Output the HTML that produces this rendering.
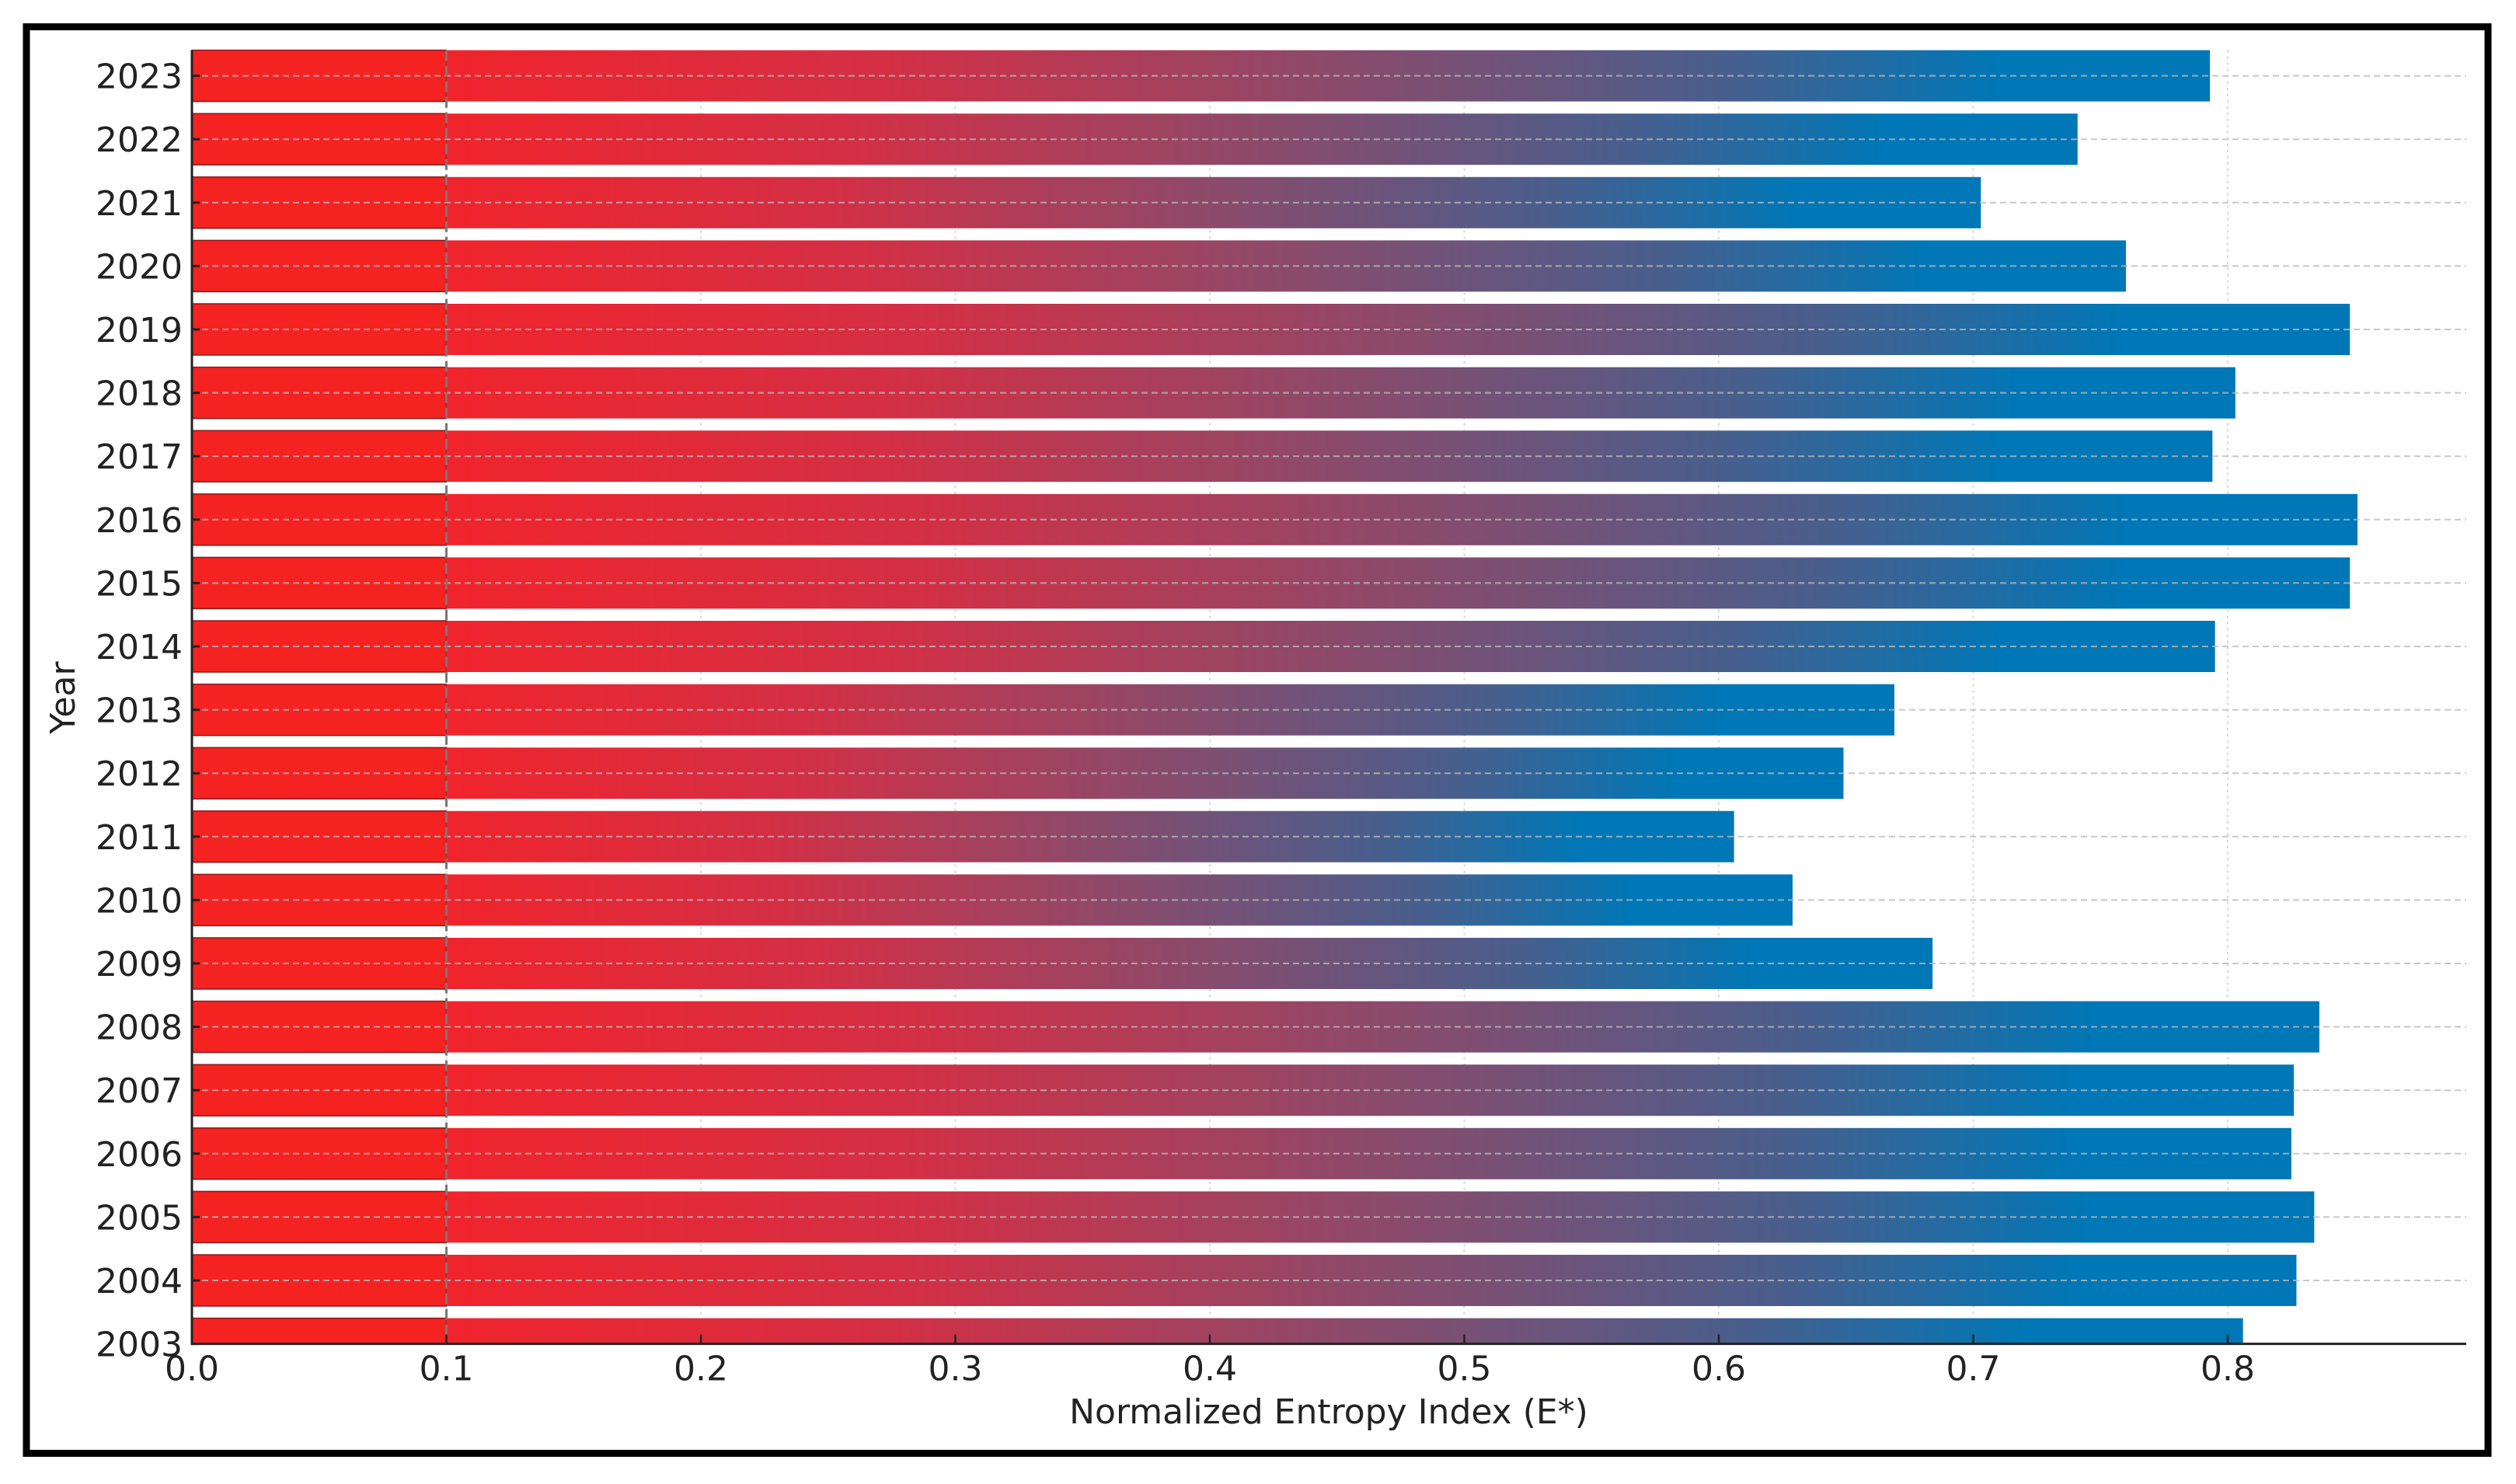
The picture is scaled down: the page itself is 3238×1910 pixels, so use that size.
<!DOCTYPE html>
<html><head><meta charset="utf-8"><style>
html,body{margin:0;padding:0;background:#fff;}
svg{display:block;font-family:"DejaVu Sans","Liberation Sans",sans-serif;}
</style></head><body>
<svg id="chart" width="3238" height="1910" viewBox="0 0 3238 1910" xmlns="http://www.w3.org/2000/svg">
<defs>
<linearGradient id="barGrad" x1="0" y1="0" x2="1" y2="0">
<stop offset="0" stop-color="#f0242c"/>
<stop offset="0.25" stop-color="#d32f45"/>
<stop offset="0.5" stop-color="#8c4a6a"/>
<stop offset="0.72" stop-color="#4a5e8c"/>
<stop offset="0.88" stop-color="#0077b6"/>
<stop offset="1" stop-color="#0077b6"/>
</linearGradient>
</defs>
<rect x="34" y="34.5" width="3168" height="1836" fill="#fff" stroke="#000" stroke-width="9"/>
<g id="grid"></g>
<g id="bars"></g>
<g id="axes"></g>
<text x="1710" y="1832" font-size="44" text-anchor="middle" fill="#222">Normalized Entropy Index (E*)</text>
<text x="0" y="0" font-size="44" text-anchor="middle" fill="#222" transform="translate(96,898) rotate(-90)">Year</text>
</svg>
<script>
const years = [2003,2004,2005,2006,2007,2008,2009,2010,2011,2012,2013,2014,2015,2016,2017,2018,2019,2020,2021,2022,2023];
const values = [0.806,0.827,0.834,0.825,0.826,0.836,0.684,0.629,0.606,0.649,0.669,0.795,0.848,0.851,0.794,0.803,0.848,0.760,0.703,0.741,0.793];
const xTicks = [0.0,0.1,0.2,0.3,0.4,0.5,0.6,0.7,0.8];
const xTickLabels = ["0.0","0.1","0.2","0.3","0.4","0.5","0.6","0.7","0.8"];
const splitValue = 0.1;

const NS = "http://www.w3.org/2000/svg";
const X0 = 247, XPER = 3275, XEND = 3174;
const Y0 = 1729.6, PITCH = 81.6, BARH = 66;
function xs(v){ return X0 + v * XPER; }
function ys(i){ return Y0 - i * PITCH; }
function mk(tag, attrs, parent){
  const e = document.createElementNS(NS, tag);
  for (const k in attrs) e.setAttribute(k, attrs[k]);
  parent.appendChild(e);
  return e;
}
const gridG = document.getElementById('grid');
const barsG = document.getElementById('bars');
const axesG = document.getElementById('axes');
const plotTop = ys(years.length - 1) - BARH / 2;

xTicks.forEach((t, i) => {
  if (i === 0) return;
  const g = mk('line', {x1: xs(t), x2: xs(t), y1: plotTop, y2: Y0, stroke: '#d8d8d8', 'stroke-width': 2, 'stroke-dasharray': '3,5'}, gridG);
  
  
});

years.forEach((yr, i) => {
  const cy = ys(i);
  let y1 = cy - BARH / 2, h = BARH;
  if (y1 + h > Y0) h = Y0 - y1;
  const left = mk('rect', {x: xs(0), y: y1, width: xs(splitValue) - xs(0), height: h, fill: '#f52222', stroke: '#8a1a1a', 'stroke-width': 1.5}, barsG);
  
  
  const right = mk('rect', {x: xs(splitValue), y: y1, width: Math.max(0, xs(values[i]) - xs(splitValue)), height: h, fill: 'url(#barGrad)'}, barsG);
  
  
  const hl = mk('line', {x1: X0, x2: XEND, y1: cy, y2: cy, stroke: '#bbbbbb', 'stroke-width': 2, 'stroke-dasharray': '8,5', opacity: 0.8}, barsG);
  
  
});

const ref = mk('line', {x1: xs(splitValue), x2: xs(splitValue), y1: plotTop, y2: Y0, stroke: '#777', 'stroke-width': 3, 'stroke-dasharray': '14,6'}, axesG);



const ls = mk('line', {x1: X0, x2: X0, y1: plotTop, y2: Y0 + 1.5, stroke: '#222', 'stroke-width': 3}, axesG);


const bs = mk('line', {x1: X0 - 1.5, x2: XEND, y1: Y0, y2: Y0, stroke: '#222', 'stroke-width': 3}, axesG);



xTicks.forEach((t, i) => {
  const tk = mk('line', {x1: xs(t), x2: xs(t), y1: Y0, y2: Y0 - 12, stroke: '#222', 'stroke-width': 2.5}, axesG);
  
  
  const tl = mk('text', {x: xs(t), y: Y0 + 47, 'font-size': 44, 'text-anchor': 'middle', fill: '#222'}, axesG);
  tl.textContent = xTickLabels[i];
  
  
});

years.forEach((yr, i) => {
  const cy = ys(i);
  const tk = mk('line', {x1: X0, x2: X0 + 10, y1: cy, y2: cy, stroke: '#222', 'stroke-width': 3}, axesG);
  
  
  const tl = mk('text', {x: X0 - 12, y: cy + 16, 'font-size': 44, 'text-anchor': 'end', fill: '#222'}, axesG);
  tl.textContent = String(yr);
  
  
});
</script>
</body></html>
